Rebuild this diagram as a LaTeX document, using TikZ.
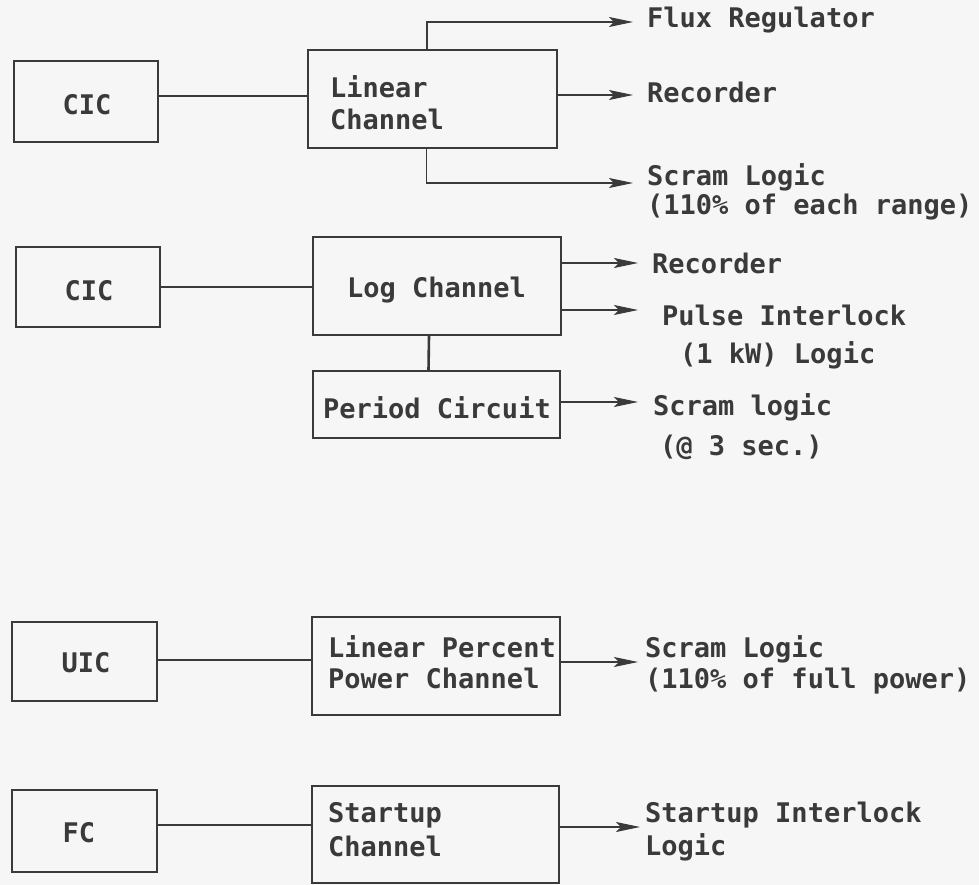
\documentclass[tikz,border=0pt]{standalone}
\usepackage{fontspec}
\setmonofont{DejaVu Sans Mono}
\usetikzlibrary{arrows.meta}
\definecolor{ink}{HTML}{3A3A3A}
\definecolor{paper}{HTML}{F6F6F6}
\begin{document}
\begin{tikzpicture}[x=1pt,y=-1pt,
  box/.style={draw=ink, line width=2pt, inner sep=0pt},
  wire/.style={draw=ink, line width=1.1pt},
  thickwire/.style={draw=ink, line width=2.6pt},
  arr/.style={wire, -{Stealth[length=24pt,width=10pt,inset=5pt]}},
  lbl/.style={font=\ttfamily\bfseries\fontsize{27}{31}\selectfont, text=ink, inner sep=0pt, anchor=base west},
  mid/.style={lbl, anchor=base},
]
\fill[paper] (0,0) rectangle (979,885);
\useasboundingbox (0,0) rectangle (979,885);

% ---- boxes ----
\node[box, minimum width=144pt, minimum height=81pt] (cic1) at (86,101.5) {};
\node[box, minimum width=249pt, minimum height=98pt] (lin) at (432.5,99) {};
\node[box, minimum width=144pt, minimum height=80pt] (cic2) at (88,287) {};
\node[box, minimum width=248pt, minimum height=98pt] (log) at (437,286) {};
\node[box, minimum width=247pt, minimum height=67pt] (per) at (436.5,404.5) {};
\node[box, minimum width=145pt, minimum height=79pt] (uic) at (84.5,661.5) {};
\node[box, minimum width=248pt, minimum height=98pt] (lpp) at (436,666) {};
\node[box, minimum width=145pt, minimum height=82pt] (fc) at (84.5,831) {};
\node[box, minimum width=247pt, minimum height=97pt] (stc) at (435.5,834.5) {};

% ---- box texts ----
\node[mid] (cic1t) at (87,115) {CIC};
\node[mid] (cic2t) at (89,300) {CIC};
\node[mid] (uict) at (86,672) {UIC};
\node[mid] (fct) at (79,842) {FC};
\node[lbl] (lint1) at (330,98) {Linear};
\node[lbl] (lint2) at (330,130) {Channel};
\node[lbl] (logt) at (347,297) {Log Channel};
\node[lbl] (pert) at (323,418) {Period Circuit};
\node[lbl] (lppt1) at (328,657) {Linear Percent};
\node[lbl] (lppt2) at (328,688) {Power Channel};
\node[lbl] (stct1) at (328,822) {Startup};
\node[lbl] (stct2) at (328,856) {Channel};

% ---- inputs ----
\draw[wire] ([yshift=5.5pt]cic1.east) -- ([yshift=5.5pt]cic1.east -| lin.west);
\draw[wire] (cic2.east) -- (cic2.east -| log.west);
\draw[wire] ([yshift=1.5pt]uic.east) -- ([yshift=1.5pt]uic.east -| lpp.west);
\draw[wire] ([yshift=6pt]fc.east) -- ([yshift=6pt]fc.east -| stc.west);
\draw[thickwire] ([xshift=-8pt]log.south) -- ([xshift=-8pt]per.north);

% ---- arrow ends ----
\coordinate (fluxtip) at (633,22);
\coordinate (rec1tip) at (633,95);
\coordinate (scr1tip) at (633,183);
\coordinate (rec2tip) at (638,263);
\coordinate (pulsetip) at (638,310);
\coordinate (scr2tip) at (638,402);
\coordinate (scr3tip) at (638,662);
\coordinate (starttip) at (640,827);

% ---- outputs ----
\draw[arr] ([xshift=-5.5pt]lin.north) |- (fluxtip);
\draw[arr] (lin.east |- rec1tip) -- (rec1tip);
\draw[arr] ([xshift=-6pt]lin.south) |- (scr1tip);
\draw[arr] (log.east |- rec2tip) -- (rec2tip);
\draw[arr] (log.east |- pulsetip) -- (pulsetip);
\draw[arr] (per.east |- scr2tip) -- (scr2tip);
\draw[arr] (lpp.east |- scr3tip) -- (scr3tip);
\draw[arr] (stc.east |- starttip) -- (starttip);

% ---- output labels ----
\node[lbl] (flux) at (647,28) {Flux Regulator};
\node[lbl] (rec1) at (647,103) {Recorder};
\node[lbl] (scr1a) at (647,186) {Scram Logic};
\node[lbl] (scr1b) at (647,215) {(110\% of each range)};
\node[lbl] (rec2) at (652,273) {Recorder};
\node[lbl] (pulsea) at (662,325) {Pulse Interlock};
\node[lbl] (pulseb) at (680,363) {(1 kW) Logic};
\node[lbl] (scr2a) at (653,415) {Scram logic};
\node[lbl] (scr2b) at (660,455) {(@ 3 sec.)};
\node[lbl] (scr3a) at (645,657) {Scram Logic};
\node[lbl] (scr3b) at (645,688) {(110\% of full power)};
\node[lbl] (starta) at (645,822) {Startup Interlock};
\node[lbl] (startb) at (645,855) {Logic};
\end{tikzpicture}
\end{document}
